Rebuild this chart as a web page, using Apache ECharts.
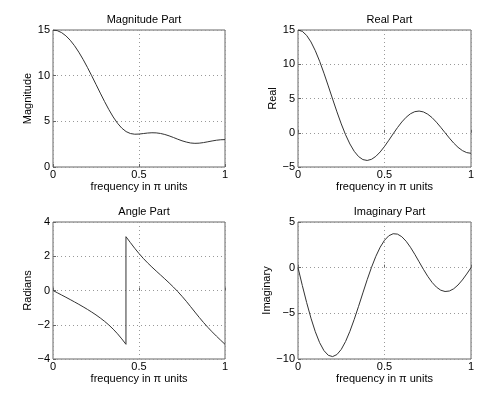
<!DOCTYPE html>
<html><head><meta charset="utf-8">
<script src="https://cdn.jsdelivr.net/npm/echarts@6/dist/echarts.min.js"></script>
<style>html,body{margin:0;padding:0;background:#fff}#c{width:485px;height:396px}</style>
</head><body><div id="c"></div>
<script>
// frequency in pi units
const freq = [0,0.025,0.05,0.075,0.1,0.125,0.15,0.175,0.2,0.225,0.25,0.275,0.3,0.325,0.35,0.375,0.4,0.425,0.45,0.475,0.5,0.525,0.55,0.575,0.6,0.625,0.65,0.675,0.7,0.725,0.75,0.775,0.8,0.825,0.85,0.875,0.9,0.925,0.95,0.975,1];
const magnitude = [15,14.928,14.714,14.363,13.882,13.281,12.575,11.779,10.911,9.991,9.043,8.089,7.158,6.277,5.478,4.793,4.253,3.878,3.666,3.590,3.606,3.662,3.719,3.749,3.735,3.672,3.561,3.410,3.232,3.045,2.869,2.732,2.629,2.591,2.610,2.673,2.760,2.851,2.930,2.982,3];
const realPart = [15,14.800,14.210,13.256,11.979,10.437,8.697,6.834,4.927,3.055,1.293,-0.291,-1.640,-2.711,-3.474,-3.917,-4.045,-3.877,-3.448,-2.804,-2.000,-1.097,-0.160,0.749,1.573,2.260,2.771,3.079,3.168,3.040,2.707,2.207,1.545,0.798,0.005,-0.780,-1.507,-2.127,-2.602,-2.899,-3];
const imagPart = [0,-1.950,-3.819,-5.530,-7.014,-8.213,-9.083,-9.594,-9.735,-9.513,-8.950,-8.084,-6.967,-5.662,-4.236,-2.763,-1.314,0.041,1.244,2.242,3.000,3.494,3.716,3.673,3.388,2.894,2.236,1.466,0.641,-0.183,-0.950,-1.611,-2.127,-2.466,-2.610,-2.556,-2.312,-1.898,-1.347,-0.698,0];
// angle (with the phase wrap near 0.424)
const angleFreq = [0,0.025,0.05,0.075,0.1,0.125,0.15,0.175,0.2,0.225,0.25,0.275,0.3,0.325,0.35,0.375,0.4,0.4242,0.4242,0.425,0.45,0.475,0.5,0.525,0.55,0.575,0.6,0.625,0.65,0.675,0.7,0.725,0.75,0.775,0.8,0.825,0.85,0.875,0.9,0.925,0.95,0.975,1];
const anglePart = [0,-0.131,-0.263,-0.395,-0.530,-0.667,-0.807,-0.952,-1.102,-1.260,-1.427,-1.607,-1.802,-2.017,-2.258,-2.527,-2.827,-3.1416,3.1416,3.131,2.796,2.467,2.159,1.875,1.614,1.370,1.136,0.908,0.679,0.445,0.200,-0.060,-0.338,-0.631,-0.943,-1.258,-1.569,-1.867,-2.149,-2.413,-2.664,-2.905,-3.1416];
const xTicks = [0, 0.5, 1];

const panels = [
  {title:'Magnitude Part', yname:'Magnitude', x:freq, y:magnitude, min:0, max:15, step:5, left:53, top:30, width:172},
  {title:'Real Part', yname:'Real', x:freq, y:realPart, min:-5, max:15, step:5, left:298, top:30, width:173},
  {title:'Angle Part', yname:'Radians', x:angleFreq, y:anglePart, min:-4, max:4, step:2, left:53, top:222, width:172},
  {title:'Imaginary Part', yname:'Imaginary', x:freq, y:imagPart, min:-10, max:5, step:5, left:298, top:222, width:173}
];
const FONT = 'Liberation Sans, Arial, Helvetica, sans-serif';
const txt = {color:'#000', fontFamily:FONT, fontSize:11};
const grid=[], xAxis=[], yAxis=[], series=[], title=[];
panels.forEach((p,i)=>{
  grid.push({left:p.left, top:p.top, width:p.width, height:137, show:true, borderColor:'#666', borderWidth:1, backgroundColor:'#fff'});
  title.push({text:p.title, left:p.left+p.width/2, top:p.top-21, textAlign:'center', textStyle:{...txt, fontWeight:'normal', fontSize:11}});
  xAxis.push({type:'value', gridIndex:i, min:0, max:1, interval:0.5,
    name:'frequency in π units', nameLocation:'middle', nameGap:14, nameTextStyle:{...txt},
    axisLine:{show:false}, axisTick:{show:true, inside:true, length:3, lineStyle:{color:'#666'}},
    axisLabel:{...txt, margin:2, formatter:v=>String(v)},
    splitLine:{show:true, lineStyle:{color:'#999', type:[1,3], width:1}}});
  yAxis.push({type:'value', gridIndex:i, min:p.min, max:p.max, interval:p.step,
    name:p.yname, nameLocation:'middle', nameGap:20, nameTextStyle:{...txt},
    axisLine:{show:false}, axisTick:{show:true, inside:true, length:3, lineStyle:{color:'#666'}},
    axisLabel:{...txt, margin:3, formatter:v=>String(v).replace('-', '\u2212')},
    splitLine:{show:true, lineStyle:{color:'#999', type:[1,3], width:1}}});
  series.push({type:'line', xAxisIndex:i, yAxisIndex:i, showSymbol:false, symbol:'none',
    data:p.x.map((xv,j)=>[xv,p.y[j]]), lineStyle:{color:'#333', width:1}, animation:false});
});
const chart = echarts.init(document.getElementById('c'), null, {renderer:'canvas'});
chart.setOption({animation:false, backgroundColor:'#fff', title, grid, xAxis, yAxis, series});
</script></body></html>
